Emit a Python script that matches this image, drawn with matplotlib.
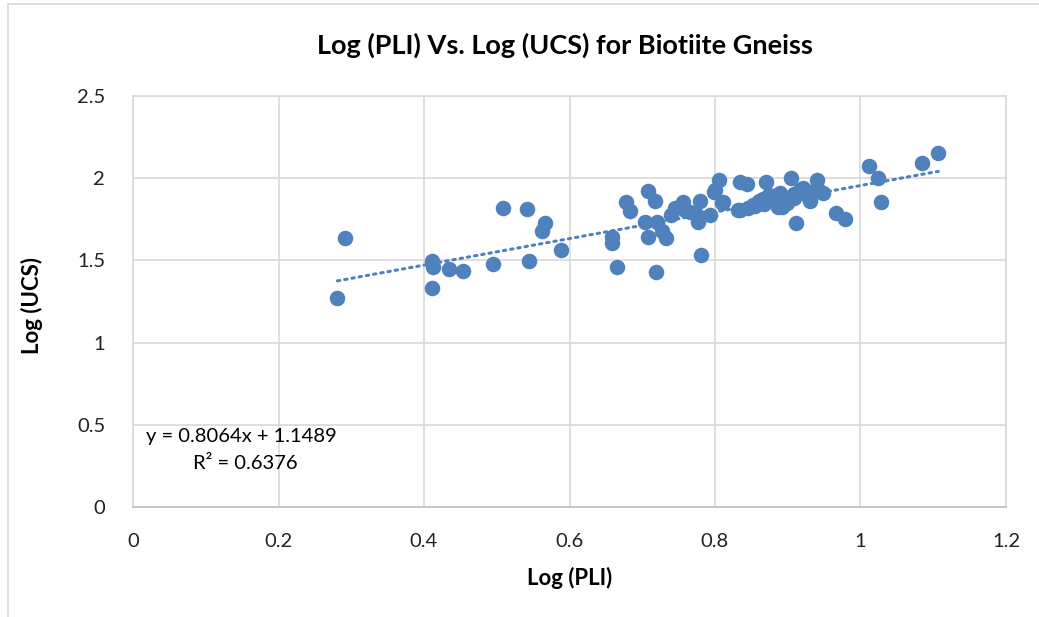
import matplotlib.pyplot as plt
from matplotlib.patches import Rectangle
import numpy as np

plt.rcParams['font.family'] = ['Lato', 'DejaVu Sans']

# Log (PLI) values
log_pli = [0.281, 0.292, 0.411, 0.413, 0.411, 0.435, 0.453, 0.495, 0.508, 0.542,
           0.544, 0.567, 0.562, 0.588, 0.658, 0.658, 0.665, 0.678, 0.683, 0.708,
           0.718, 0.704, 0.708, 0.720, 0.727, 0.733, 0.719, 0.740, 0.745, 0.756,
           0.759, 0.766, 0.775, 0.779, 0.776, 0.793, 0.781, 0.800, 0.806, 0.811,
           0.834, 0.844, 0.834, 0.845, 0.859, 0.870, 0.885, 0.892, 0.905, 0.912,
           0.921, 0.931, 0.940, 0.798, 0.809, 0.832, 0.866, 0.878, 0.889, 0.887,
           0.899, 0.908, 0.917, 0.926, 0.940, 0.949, 0.852, 0.860, 0.874, 0.894,
           0.908, 0.928, 0.930, 0.868, 0.855, 0.967, 0.979, 1.011, 1.024, 1.028,
           1.084, 1.107]
# Log (UCS) values
log_ucs = [1.273, 1.638, 1.496, 1.462, 1.334, 1.448, 1.436, 1.478, 1.821, 1.813,
           1.498, 1.729, 1.681, 1.561, 1.644, 1.606, 1.462, 1.857, 1.802, 1.924,
           1.861, 1.735, 1.644, 1.735, 1.681, 1.636, 1.428, 1.776, 1.818, 1.857,
           1.806, 1.796, 1.776, 1.861, 1.732, 1.776, 1.533, 1.928, 1.989, 1.857,
           1.979, 1.965, 1.807, 1.818, 1.849, 1.979, 1.898, 1.827, 2.000, 1.726,
           1.940, 1.880, 1.989, 1.918, 1.851, 1.807, 1.872, 1.887, 1.908, 1.827,
           1.847, 1.878, 1.928, 1.918, 1.939, 1.908, 1.835, 1.860, 1.900, 1.870,
           1.905, 1.890, 1.860, 1.845, 1.830, 1.790, 1.750, 2.074, 1.999, 1.853,
           2.094, 2.155]

slope, intercept = 0.8064, 1.1489
eq_text = "y = 0.8064x + 1.1489"
r2_text = "R\u00b2 = 0.6376"

blue = '#4F81BD'

fig = plt.figure(figsize=(10.39, 6.17), dpi=100)
ax = fig.add_axes([133/1039, 1 - 507/617, (1006 - 133)/1039, (507 - 96)/617])

ax.scatter(log_pli, log_ucs, s=125, color=blue, zorder=3, linewidths=0)

xt = np.array([min(log_pli), max(log_pli)])
ax.plot(xt, slope*xt + intercept, color=blue, lw=2.2, linestyle=(0, (0.8, 1.6)),
        dash_capstyle='round', zorder=2)

ax.set_xlim(0, 1.2)
ax.set_ylim(0, 2.5)
ax.set_xticks(np.arange(0, 1.21, 0.2))
ax.set_yticks(np.arange(0, 2.51, 0.5))
ax.set_xticklabels(['0', '0.2', '0.4', '0.6', '0.8', '1', '1.2'])
ax.set_yticklabels(['0', '0.5', '1', '1.5', '2', '2.5'])
ax.tick_params(length=0, labelsize=14.5, colors='#222222')
ax.tick_params(axis='x', pad=19)
ax.tick_params(axis='y', pad=20)
ax.grid(True, color='#D9D9D9', lw=1.2)
ax.set_axisbelow(True)
for s in ax.spines.values():
    s.set_color('#D9D9D9')
    s.set_linewidth(1.2)
ax.spines['bottom'].set_color('#BFBFBF')

fig.text(565/1039, 1 - 45/617, 'Log (PLI) Vs. Log (UCS) for Biotiite Gneiss',
         fontsize=19.5, fontweight='bold', ha='center', va='center')
ax.set_xlabel('Log (PLI)', fontsize=16, fontweight='bold')
ax.set_ylabel('Log (UCS)', fontsize=16, fontweight='bold')
ax.xaxis.set_label_coords(0.5, -0.145)
ax.yaxis.set_label_coords(-0.103, 0.49)

ax.text(0.018, 0.426, eq_text, fontsize=14.5, ha='left', va='center')
ax.text(0.082, 0.262, r2_text, fontsize=14.5, ha='left', va='center')

fig.patches.append(Rectangle((8/1039, -0.1), 1.2, 1 - 4/617 + 0.1,
                             transform=fig.transFigure, fill=False,
                             edgecolor='#D9D9D9', lw=1.2))

fig.savefig('out.png', dpi=100)
